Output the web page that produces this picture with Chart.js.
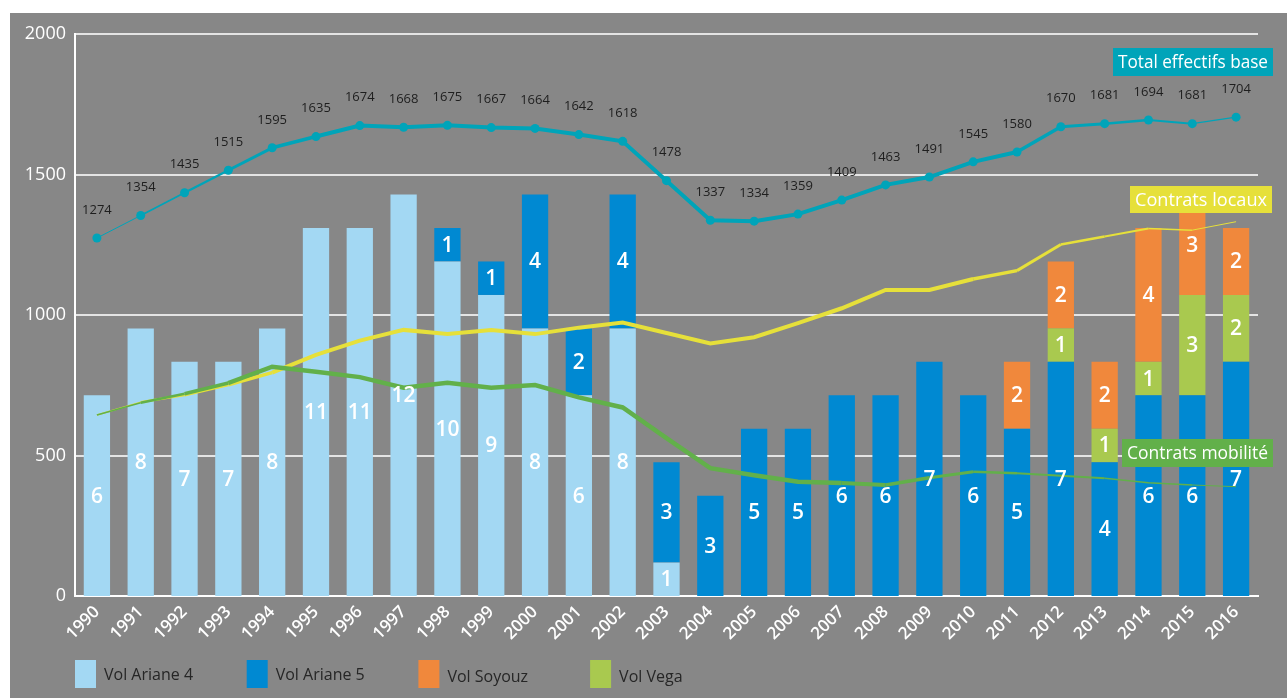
<!DOCTYPE html>
<html>
<head>
<meta charset="utf-8">
<script src="https://cdn.jsdelivr.net/npm/chart.js@4.4.1/dist/chart.umd.min.js"></script>
<style>
  html, body { margin: 0; padding: 0; background: #fff; }
  #cadre { position: relative; width: 1287px; height: 698px; }
</style>
</head>
<body>
<div id="cadre"><canvas id="graphe"></canvas></div>
<script>
/* ===== DONNEES ===== */
const annees = ["1990","1991","1992","1993","1994","1995","1996","1997","1998","1999",
  "2000","2001","2002","2003","2004","2005","2006","2007","2008","2009",
  "2010","2011","2012","2013","2014","2015","2016"];

const totalEffectifs = [1274,1354,1435,1515,1595,1635,1674,1668,1675,1667,
  1664,1642,1618,1478,1337,1334,1359,1409,1463,1491,
  1545,1580,1670,1681,1694,1681,1704];

const contratsLocaux = [644,690,715,752,795,858,909,947,932,947,
  932,955,973,936,899,921,971,1024,1089,1089,
  1128,1158,1251,1279,1308,1302,1332];

const contratsMobilite = [644,688,720,758,816,798,779,741,759,741,
  751,707,671,562,455,430,407,402,395,421,
  442,437,428,419,403,395,389];

const volAriane4 = [6,8,7,7,8,11,11,12,10,9,8,6,8,1,0,0,0,0,0,0,0,0,0,0,0,0,0];
const volAriane5 = [0,0,0,0,0,0,0,0,1,1,4,2,4,3,3,5,5,6,6,7,6,5,7,4,6,6,7];
const volVega    = [0,0,0,0,0,0,0,0,0,0,0,0,0,0,0,0,0,0,0,0,0,0,1,1,1,3,2];
const volSoyouz  = [0,0,0,0,0,0,0,0,0,0,0,0,0,0,0,0,0,0,0,0,0,2,2,2,4,3,2];

const ticksY = [0, 500, 1000, 1500, 2000];

/* ===== STYLES ===== */
const C_FOND = "#878787";
const C_A4 = "#a3d8f3";
const C_A5 = "#0089d2";
const C_SOYOUZ = "#f0883c";
const C_VEGA = "#a9c94f";
const C_TOTAL = "#00a4b9";
const C_LOCAUX = "#e6e03a";
const C_MOBILITE = "#62b04a";

// epaisseur des segments (effet effile aux extremites)
const epTotal    = [1,1.8,2.4,3,3.5,4,4,4,4,4,4,4,4,4,4,4,4,4,4,4,4,3.5,3,2.5,2,1.2];
const epLocaux   = [1.5,2.5,3,3.5,4,4,4,4,4,4,4,4,4,4,4,4,4,4,4,4,3.5,3,2.5,2,1.5,1];
const epMobilite = [1.5,2.5,3.5,4.5,4.5,4.5,4.5,4.5,4.5,4.5,4.5,4.5,4.5,4.5,4.5,4.5,4.5,4,3.5,3,2.5,2,2,1.5,1.5,1];

const POLICE = '"Open Sans", "Noto Sans", sans-serif';

/* ===== PLUGINS ===== */
const fondGris = {
  id: "fondGris",
  beforeDraw(chart) {
    const ctx = chart.ctx;
    ctx.save();
    ctx.fillStyle = C_FOND;
    ctx.fillRect(10, 13, chart.width - 10, chart.height - 13);
    ctx.restore();
  }
};

const etiquettes = {
  id: "etiquettes",
  afterDatasetsDraw(chart) {
    const ctx = chart.ctx;
    ctx.save();
    ctx.textAlign = "center";
    ctx.textBaseline = "middle";
    chart.data.datasets.forEach((ds, di) => {
      const meta = chart.getDatasetMeta(di);
      if (ds.type === "bar") {
        ctx.fillStyle = "#fff";
        ctx.font = "600 21px " + POLICE;
        meta.data.forEach((el, i) => {
          const v = ds.data[i];
          if (!v) return;
          ctx.fillText(String(v), el.x, (el.y + el.base) / 2 + 1);
        });
      } else if (ds.etiquettes) {
        ctx.fillStyle = "#1e1e1e";
        ctx.font = "13px " + POLICE;
        meta.data.forEach((el, i) => ctx.fillText(String(ds.data[i]), el.x, el.y - 28));
      }
    });
    ctx.restore();
  }
};

function cartouche(ctx, texte, x, y, w, h, couleur) {
  ctx.fillStyle = couleur;
  ctx.fillRect(x, y, w, h);
  ctx.fillStyle = "#fff";
  ctx.font = "19px " + POLICE;
  ctx.textAlign = "left";
  ctx.textBaseline = "middle";
  ctx.fillText(texte, x + 5, y + h / 2 + 1, w - 10);
}

const legende = [
  { texte: "Vol Ariane 4", couleur: C_A4 },
  { texte: "Vol Ariane 5", couleur: C_A5 },
  { texte: "Vol Soyouz", couleur: C_SOYOUZ },
  { texte: "Vol Vega", couleur: C_VEGA }
];

const annotations = {
  id: "annotations",
  afterDraw(chart) {
    const ctx = chart.ctx;
    const a = chart.chartArea;
    ctx.save();
    cartouche(ctx, "Total effectifs base", a.right - 145, a.top + 14, 160, 28, C_TOTAL);
    cartouche(ctx, "Contrats locaux", a.right - 128, a.top + 152, 142, 27, C_LOCAUX);
    cartouche(ctx, "Contrats mobilité", a.right - 136, a.top + 405, 151, 28, C_MOBILITE);

    // legende des vols
    legende.forEach((l, i) => {
      const x = a.left + i * 171.7;
      ctx.fillStyle = l.couleur;
      ctx.fillRect(x, 660, 21, 28);
      ctx.fillStyle = "#262626";
      ctx.font = "16px " + POLICE;
      ctx.textAlign = "left";
      ctx.textBaseline = "middle";
      ctx.fillText(l.texte, x + 29, 675 + (i >= 2 ? 2 : 0), 92);
    });
    ctx.restore();
  }
};

/* ===== GRAPHIQUE ===== */
function serieVol(label, data, couleur) {
  return {
    type: "bar",
    label,
    data,
    backgroundColor: couleur,
    yAxisID: "yVols",
    stack: "vols",
    order: 5,
    barPercentage: 0.6,
    categoryPercentage: 1
  };
}

function serieLigne(label, data, couleur, ep, ordre, points) {
  return {
    type: "line",
    label,
    data,
    borderColor: couleur,
    backgroundColor: couleur,
    borderWidth: 4,
    pointRadius: points ? 4.5 : 0,
    pointBorderWidth: 0,
    tension: 0,
    yAxisID: "y",
    order: ordre,
    etiquettes: points,
    segment: { borderWidth: c => ep[c.p0DataIndex] }
  };
}

new Chart(document.getElementById("graphe"), {
  type: "bar",
  data: {
    labels: annees,
    datasets: [
      serieLigne("Total effectifs base", totalEffectifs, C_TOTAL, epTotal, 0, true),
      serieLigne("Contrats mobilité", contratsMobilite, C_MOBILITE, epMobilite, 1, false),
      serieLigne("Contrats locaux", contratsLocaux, C_LOCAUX, epLocaux, 2, false),
      serieVol("Vol Ariane 4", volAriane4, C_A4),
      serieVol("Vol Ariane 5", volAriane5, C_A5),
      serieVol("Vol Vega", volVega, C_VEGA),
      serieVol("Vol Soyouz", volSoyouz, C_SOYOUZ)
    ]
  },
  options: {
    responsive: true,
    maintainAspectRatio: false,
    animation: false,
    layout: { padding: { left: 0, right: 29, top: 34, bottom: 0 } },
    plugins: { legend: { display: false }, tooltip: { enabled: false } },
    scales: {
      x: {
        stacked: true,
        grid: { color: "transparent", drawTicks: false },
        border: { display: true, color: "#fff", width: 2 },
        ticks: {
          color: "#fff",
          font: { family: POLICE, size: 17, weight: "600" },
          maxRotation: 45,
          minRotation: 45,
          autoSkip: false,
          padding: 6
        },
        afterFit: s => { s.height = 102; }
      },
      y: {
        min: 0,
        max: 2000,
        afterBuildTicks: s => { s.ticks = ticksY.map(v => ({ value: v })); },
        grid: { color: "#e4e4e4", lineWidth: 2, drawTicks: false },
        border: { display: true, color: "#fff", width: 2 },
        ticks: {
          color: "#fff",
          font: { family: POLICE, size: 18 },
          padding: 9,
          callback: v => String(v)
        },
        afterFit: s => { s.width = 75; }
      },
      yVols: {
        display: false,
        stacked: true,
        min: 0,
        max: 16.8
      }
    }
  },
  plugins: [fondGris, etiquettes, annotations]
});
</script>
</body>
</html>
